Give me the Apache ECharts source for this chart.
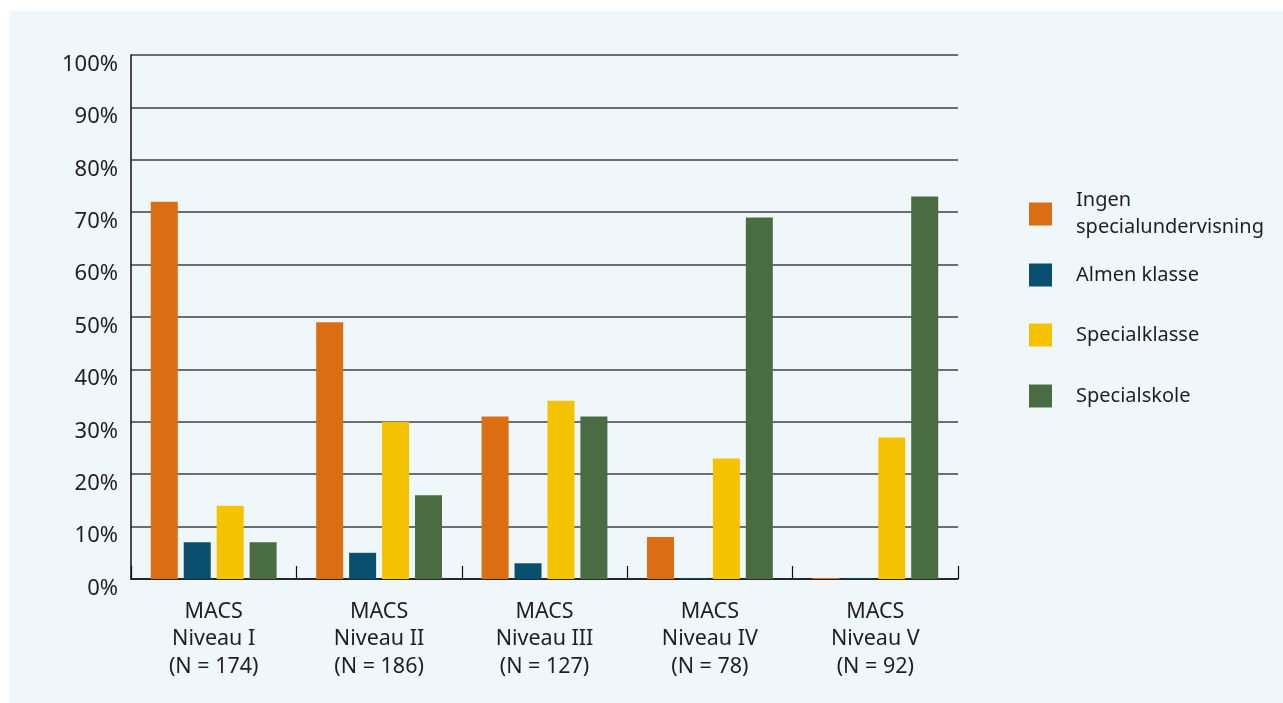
<!DOCTYPE html>
<html>
<head>
<meta charset="utf-8">
<script src="https://cdn.jsdelivr.net/npm/echarts@6/dist/echarts.min.js"></script>
<style>
  html, body { margin: 0; padding: 0; background: #ffffff; }
  #chart { width: 1283px; height: 703px; }
</style>
</head>
<body>
<div id="chart"></div>
<script>
// Share of children per MACS level by school setting (%)
const categories = [
  'MACS\nNiveau I\n(N = 174)',
  'MACS\nNiveau II\n(N = 186)',
  'MACS\nNiveau III\n(N = 127)',
  'MACS\nNiveau IV\n(N = 78)',
  'MACS\nNiveau V\n(N = 92)'
];
const seriesNames = ['Ingen specialundervisning', 'Almen klasse', 'Specialklasse', 'Specialskole'];
const ingenSpecial = [72, 49, 31, 8, 0.2];
const almenKlasse = [7, 5, 3, 0.2, 0.2];
const specialKlasse = [14, 30, 34, 23, 27];
const specialSkole = [7, 16, 31, 69, 73];
const yTicks = [0, 10, 20, 30, 40, 50, 60, 70, 80, 90, 100];

const colors = ['#db6d13', '#09506f', '#f5c200', '#4a6c43'];
const values = [ingenSpecial, almenKlasse, specialKlasse, specialSkole];
const font = '"Noto Sans", "Open Sans", sans-serif';
const textColor = '#1f1f1f';

const legendTops = [187, 261.5, 321.5, 382.5];
const legends = seriesNames.map((name, i) => ({
  data: [name],
  left: 1029,
  top: legendTops[i],
  orient: 'vertical',
  padding: 0,
  itemWidth: 23,
  itemHeight: 23,
  icon: 'rect',
  selectedMode: false,
  formatter: n => n === 'Ingen specialundervisning' ? 'Ingen\nspecialundervisning' : n,
  textStyle: {
    fontFamily: font,
    fontSize: 20,
    lineHeight: 27,
    color: textColor,
    padding: [0, 0, 0, 19]
  }
}));

const chart = echarts.init(document.getElementById('chart'), null, { renderer: 'canvas' });
chart.setOption({
  animation: false,
  backgroundColor: '#ffffff',
  graphic: [{
    type: 'rect',
    z: -10,
    silent: true,
    shape: { x: 10, y: 11, width: 1283, height: 703 },
    style: { fill: '#f0f7fb' }
  }],
  legend: legends,
  grid: { left: 131, right: 325, top: 55, bottom: 124, containLabel: false },
  xAxis: {
    type: 'category',
    data: categories,
    axisLine: { show: true, lineStyle: { color: '#111111', width: 1.5 } },
    axisTick: { show: true, inside: true, length: 13, lineStyle: { color: '#111111', width: 1.2 } },
    axisLabel: {
      fontFamily: font,
      fontSize: 21.5,
      lineHeight: 27.5,
      color: textColor,
      margin: 19,
      interval: 0
    },
    splitLine: { show: false }
  },
  yAxis: {
    type: 'value',
    min: 0,
    max: 100,
    interval: 10,
    axisLine: { show: true, lineStyle: { color: '#111111', width: 1.5 } },
    axisTick: { show: false },
    axisLabel: {
      margin: 13,
      formatter: v => yTicks.includes(v) ? '{v|' + v + '%}' : '',
      rich: {
        v: {
          fontFamily: font,
          fontSize: 22,
          color: textColor,
          padding: [19, 0, 0, 0]
        }
      }
    },
    splitLine: { show: true, lineStyle: { color: '#3c4246', width: 1.5 } }
  },
  series: seriesNames.map((name, i) => ({
    name,
    type: 'bar',
    data: values[i],
    barWidth: 27,
    barGap: '22%',
    itemStyle: { color: colors[i] },
    z: 3
  }))
});
</script>
</body>
</html>
